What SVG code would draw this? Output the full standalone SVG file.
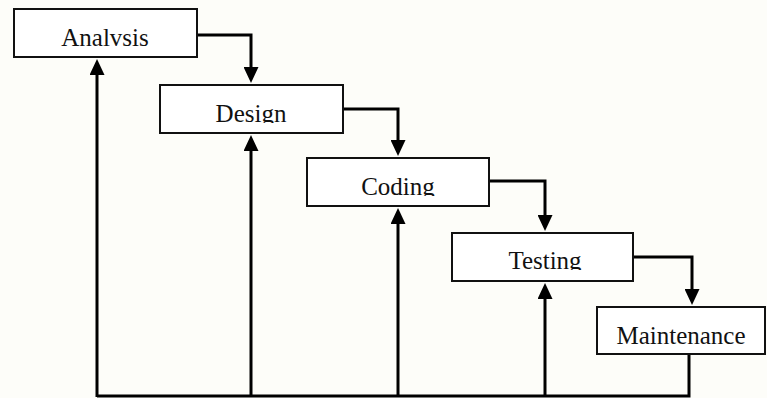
<svg xmlns="http://www.w3.org/2000/svg" width="767" height="398" viewBox="0 0 767 398">
<style>
.box{fill:#ffffff;stroke:#111;stroke-width:2}
.lbl{font-family:"Liberation Serif","Times New Roman",serif;font-size:25px;fill:#111;text-anchor:middle}
.con{fill:none;stroke:#000;stroke-width:3}
</style>
<defs>
<marker id="ah" markerUnits="userSpaceOnUse" markerWidth="16" markerHeight="15" viewBox="0 0 16 15" refX="8" refY="7.5" orient="auto">
<path d="M0,0 L16,7.5 L0,15 z" fill="#000"/>
</marker>
<clipPath id="c1"><rect x="14" y="9" width="183" height="38"/></clipPath>
<clipPath id="c2"><rect x="160" y="85" width="183" height="38"/></clipPath>
<clipPath id="c3"><rect x="307" y="158" width="182" height="38"/></clipPath>
<clipPath id="c4"><rect x="452" y="233" width="181" height="37"/></clipPath>
</defs>
<rect width="767" height="398" fill="#fdfdf9"/>
<g id="connectors">
<path class="con" d="M197,35 H251 V75" marker-end="url(#ah)"/>
<path class="con" d="M343,109 H398 V148" marker-end="url(#ah)"/>
<path class="con" d="M489,181 H545 V223" marker-end="url(#ah)"/>
<path class="con" d="M633,257 H692 V297" marker-end="url(#ah)"/>
<path class="con" d="M689,354 V396 H97"/>
<path class="con" d="M97,397 V67" marker-end="url(#ah)"/>
<path class="con" d="M251,397 V143" marker-end="url(#ah)"/>
<path class="con" d="M398,397 V216" marker-end="url(#ah)"/>
<path class="con" d="M545,397 V291" marker-end="url(#ah)"/>
</g>
<g id="analysis">
<rect class="box" x="14" y="9" width="183" height="48"/>
<text class="lbl" x="105" y="46" clip-path="url(#c1)">Analvsis</text>
</g>
<g id="design">
<rect class="box" x="160" y="85" width="183" height="48"/>
<text class="lbl" x="251" y="122" clip-path="url(#c2)">Design</text>
</g>
<g id="coding">
<rect class="box" x="307" y="158" width="182" height="48"/>
<text class="lbl" x="398" y="195" clip-path="url(#c3)">Coding</text>
</g>
<g id="testing">
<rect class="box" x="452" y="233" width="181" height="48"/>
<text class="lbl" x="545" y="269" clip-path="url(#c4)">Testing</text>
</g>
<g id="maintenance">
<rect class="box" x="597" y="307" width="168" height="47"/>
<text class="lbl" x="681" y="344">Maintenance</text>
</g>
</svg>
